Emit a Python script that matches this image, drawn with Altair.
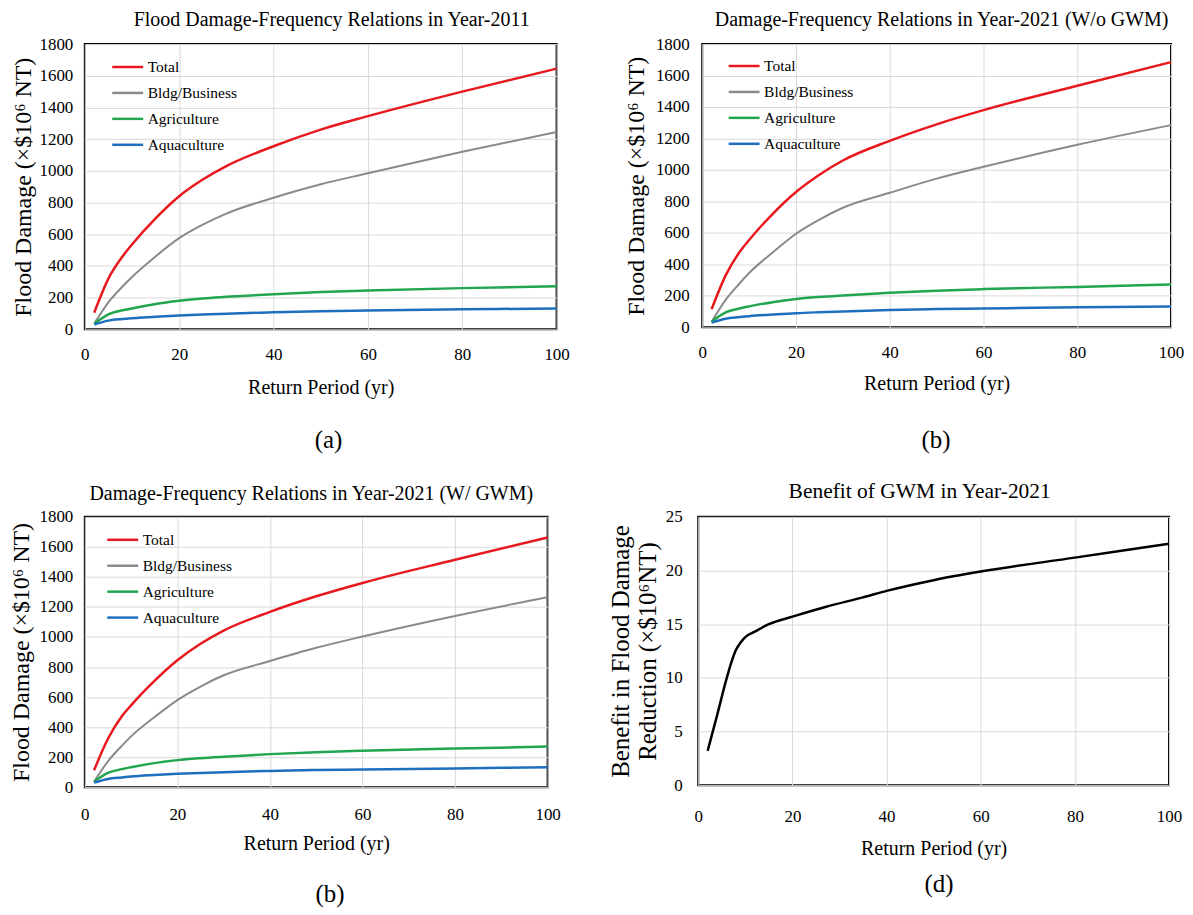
import altair as alt
import pandas as pd

FONT = "Liberation Serif"

# Return periods (yr) used for the damage curves
rp = [2, 5, 8, 10, 15, 20, 25, 30, 40, 50, 60, 80, 100]

# (a) Year-2011
a_total = [105, 320, 460, 535, 700, 840, 945, 1030, 1155, 1260, 1345, 1500, 1645]
a_bldg = [36, 170, 270, 330, 460, 575, 660, 730, 830, 915, 985, 1120, 1245]
a_agri = [36, 95, 120, 132, 160, 180, 195, 205, 222, 235, 245, 260, 272]
a_aqua = [30, 55, 65, 70, 80, 88, 94, 99, 107, 114, 119, 126, 132]

# (b) Year-2021 without GWM
b_total = [115, 330, 480, 555, 720, 860, 970, 1060, 1185, 1290, 1380, 1535, 1685]
b_bldg = [36, 175, 280, 345, 475, 595, 685, 760, 855, 945, 1020, 1160, 1285]
b_agri = [36, 95, 120, 133, 160, 180, 193, 203, 220, 233, 243, 257, 272]
b_aqua = [30, 55, 65, 71, 81, 90, 96, 101, 110, 116, 120, 127, 133]

# (c) Year-2021 with GWM
c_total = [112, 322, 472, 545, 706, 845, 955, 1043, 1167, 1271, 1360, 1514, 1663]
c_bldg = [36, 172, 275, 338, 465, 580, 670, 745, 840, 928, 1003, 1140, 1265]
c_agri = [36, 95, 120, 133, 160, 180, 193, 203, 220, 233, 243, 257, 270]
c_aqua = [30, 55, 65, 71, 81, 89, 95, 100, 108, 114, 118, 125, 132]

# (d) Benefit of GWM
d_rp = [2, 4, 6, 7, 8, 9, 10, 12, 15, 20, 27, 35, 40, 50, 60, 80, 100]
d_benefit = [3.2, 6.5, 9.9, 11.4, 12.6, 13.3, 13.8, 14.3, 15.0, 15.7, 16.6, 17.5, 18.1, 19.1, 19.9, 21.2, 22.5]

series_names = ["Total", "Bldg/Business", "Agriculture", "Aquaculture"]
series_colors = ["#e8191e", "#8a8a8a", "#21a64f", "#1f6fbf"]
series_widths = [2.5, 2.0, 2.5, 2.5]
x_ticks = [0, 20, 40, 60, 80, 100]
y_ticks = [0, 200, 400, 600, 800, 1000, 1200, 1400, 1600, 1800]
d_ticks = [0, 5, 10, 15, 20, 25]

Y_TITLE = "Flood Damage (\u00d7$10\u2076 NT)"
X_TITLE = "Return Period (yr)"


def independent(ch):
    return ch.resolve_scale(color="independent").resolve_legend(color="independent")


def damage_panel(total, bldg, agri, aqua, title, w, h, title_dx, title_off,
                 xlp, xtp, ylp, ytp, leg_x, leg_y):
    rows = []
    for name, vals, sw in zip(series_names, [total, bldg, agri, aqua], series_widths):
        for x, v in zip(rp, vals):
            rows.append({"rp": x, "val": v, "series": name, "sw": sw})
    df = pd.DataFrame(rows)
    chart = alt.Chart(df).mark_line(interpolate="monotone").encode(
        x=alt.X("rp:Q", scale=alt.Scale(domain=[0, 100], nice=False),
                axis=alt.Axis(values=x_ticks, title=X_TITLE, labelPadding=xlp,
                              titlePadding=xtp, labelFlush=False, format="d")),
        y=alt.Y("val:Q", scale=alt.Scale(domain=[0, 1800], nice=False),
                axis=alt.Axis(values=y_ticks, title=Y_TITLE, labelPadding=ylp,
                              titlePadding=ytp, titleFontSize=24,
                              labelFlush=False, format="d")),
        color=alt.Color("series:N",
                        scale=alt.Scale(domain=series_names, range=series_colors),
                        legend=alt.Legend(title=None, orient="none", legendX=leg_x, legendY=leg_y,
                                          symbolType="stroke", symbolSize=961,
                                          symbolStrokeWidth=2.5, labelFont=FONT,
                                          labelFontSize=15.5, labelOffset=3, rowPadding=0,
                                          padding=0)),
        strokeWidth=alt.StrokeWidth("sw:Q", scale=None, legend=None),
        detail="series:N",
    ).properties(width=w, height=h,
                 title=alt.TitleParams(title, fontSize=20, font=FONT, fontWeight="normal",
                                       offset=title_off, dx=title_dx))
    return chart


def caption(chart, text, dx, offset):
    return independent(alt.vconcat(chart, title=alt.TitleParams(text, orient="bottom", anchor="middle",
                                                                fontSize=25, font=FONT,
                                                                fontWeight="normal",
                                                                offset=offset, dx=dx)))


pa = damage_panel(a_total, a_bldg, a_agri, a_aqua,
                  "Flood Damage-Frequency Relations in Year-2011", 473, 286, 11, 5,
                  17, 15, 12, 3, 26, 6)
pb = damage_panel(b_total, b_bldg, b_agri, b_aqua,
                  "Damage-Frequency Relations in Year-2021 (W/o GWM)", 470, 284, 5, 5,
                  17, 13, 13, 7, 25, 5)
pc = damage_panel(c_total, c_bldg, c_agri, c_aqua,
                  "Damage-Frequency Relations in Year-2021 (W/ GWM)", 464, 271, -5, 4,
                  19, 11, 12, 5, 21, 6)

dd = pd.DataFrame({"rp": d_rp, "benefit": d_benefit})
pd_chart = alt.Chart(dd).mark_line(strokeWidth=2.5, interpolate="monotone", color="black").encode(
    x=alt.X("rp:Q", scale=alt.Scale(domain=[0, 100], nice=False),
            axis=alt.Axis(values=x_ticks, title=X_TITLE, labelPadding=23, titlePadding=15,
                          labelFlush=False, format="d")),
    y=alt.Y("benefit:Q", scale=alt.Scale(domain=[0, 25], nice=False),
            axis=alt.Axis(values=d_ticks, title=["Benefit in Flood Damage", "Reduction (\u00d7$10\u2076NT)"],
                          titleFontSize=25, titleLineHeight=27,
                          labelPadding=16, titlePadding=5, labelFlush=False, format="d")),
).properties(width=472, height=269,
             title=alt.TitleParams("Benefit of GWM in Year-2021", fontSize=21.5, font=FONT,
                                   fontWeight="normal", offset=5, dx=-14))

top = independent(alt.hconcat(caption(pa, "(a)", 38, 30), caption(pb, "(b)", 32, 34), spacing=52))
bottom = independent(alt.hconcat(caption(pc, "(b)", 45, 28), caption(pd_chart, "(d)", 44, 12), spacing=45))

chart = independent(alt.vconcat(top, bottom, spacing=27)).properties(
    padding={"left": 0, "top": 0, "right": 0, "bottom": 0}
).configure_view(
    stroke="black", strokeWidth=2
).configure_axis(
    labelFont=FONT, labelFontSize=17, labelColor="black",
    titleFont=FONT, titleFontSize=20, titleFontWeight="normal", titleColor="black",
    gridColor="#d9d9d9", gridWidth=1, ticks=False, domain=False,
).configure_legend(labelColor="black")

chart.save("out.html", embed_options={"renderer": "svg", "actions": False})
